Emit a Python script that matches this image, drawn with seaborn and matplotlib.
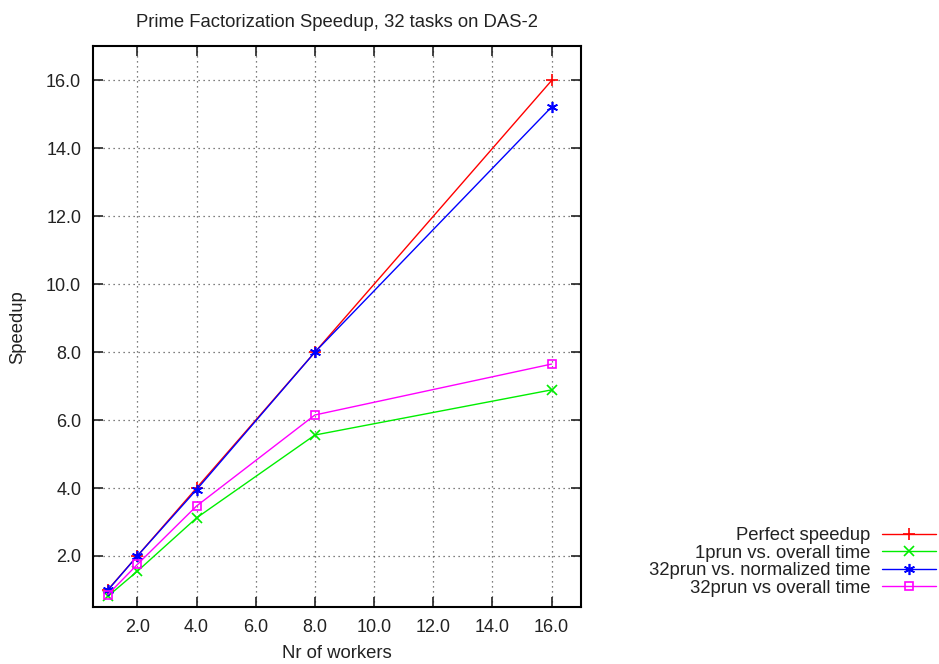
import matplotlib
matplotlib.use('Agg')
import matplotlib.pyplot as plt
import seaborn as sns
import pandas as pd

workers = [1, 2, 4, 8, 16]
perfect = [1, 2, 4, 8, 16]
prun1_overall = [0.81, 1.55, 3.12, 5.56, 6.89]
prun32_normalized = [0.99, 2.0, 3.95, 8.0, 15.22]
prun32_overall = [0.86, 1.75, 3.47, 6.15, 7.65]

series = ['Perfect speedup', '1prun vs. overall time',
          '32prun vs. normalized time', '32prun vs overall time']
values = [perfect, prun1_overall, prun32_normalized, prun32_overall]

sns.set_style('ticks')
plt.rcParams['font.family'] = ['Liberation Sans', 'DejaVu Sans']

fig = plt.figure(figsize=(9.39, 6.64), dpi=100)
ax = fig.add_axes([0.099, 0.086, 0.52, 0.844])

colors = ['#ff0000', '#00ee00', '#0000ff', '#ff00ff']
markers = ['+', 'x', (6, 2, 0), 's']
sizes = [8, 7, 8, 6]

for name, vals, c, m, s in zip(series, values, colors, markers, sizes):
    df = pd.DataFrame({'workers': workers, 'speedup': vals})
    if m == 's':
        sns.lineplot(data=df, x='workers', y='speedup', ax=ax, color=c, lw=1,
                     marker=m, markersize=s, markerfacecolor='none',
                     markeredgecolor=c, markeredgewidth=1.2, label=name)
    else:
        sns.lineplot(data=df, x='workers', y='speedup', ax=ax, color=c, lw=1,
                     marker=m, markersize=s, markeredgecolor=c,
                     markeredgewidth=1.2, label=name)

ax.set_xlim(0.5, 17)
ax.set_ylim(0.5, 17)
ax.set_xticks(range(2, 17, 2))
ax.set_yticks(range(2, 17, 2))
ax.xaxis.set_major_formatter(matplotlib.ticker.FormatStrFormatter('%.1f'))
ax.yaxis.set_major_formatter(matplotlib.ticker.FormatStrFormatter('%.1f'))
ax.tick_params(direction='in', length=7, width=1.2, top=True, right=True,
               labelsize=13, colors='#222222', pad=8.5)
ax.grid(True, linestyle=(0, (1, 3)), color='#555555', lw=0.9)
for sp in ax.spines.values():
    sp.set_linewidth(1.5)
    sp.set_color('black')

ax.set_xlabel('Nr of workers', fontsize=13.3, labelpad=7, color='#222222')
ax.set_ylabel('Speedup', fontsize=13.3, labelpad=14, color='#222222')
ax.set_title('Prime Factorization Speedup, 32 tasks on DAS-2', fontsize=13.3,
             pad=14, color='#222222')

leg = ax.legend(loc='lower right', bbox_to_anchor=(0.9968, 0.101),
                bbox_transform=fig.transFigure, frameon=False, markerfirst=False,
                fontsize=13.3, handlelength=2.9, labelspacing=0.03,
                borderaxespad=0, borderpad=0, handletextpad=0.65)
for t in leg.get_texts():
    t.set_color('#222222')

fig.savefig('out.png', dpi=100)
